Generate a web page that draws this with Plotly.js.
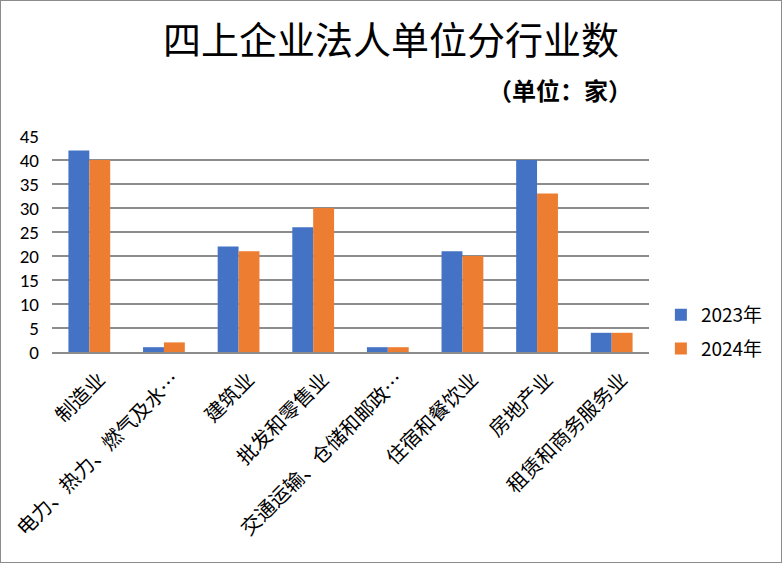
<!DOCTYPE html>
<html>
<head>
<meta charset="utf-8">
<script src="https://cdn.plot.ly/plotly-3.0.1.min.js"></script>
<style>
  html, body { margin: 0; padding: 0; background: #fff; }
  #chart { width: 780px; height: 561px; border: 1px solid #8c8c8c; }
</style>
</head>
<body>
<div id="chart"></div>
<script>
// 行业分类
const industries = ['制造业', '电力、热力、燃气及水…', '建筑业', '批发和零售业',
    '交通运输、仓储和邮政…', '住宿和餐饮业', '房地产业', '租赁和商务服务业'];
const values2023 = [42, 1, 22, 26, 1, 21, 40, 4];
const values2024 = [40, 2, 21, 30, 1, 20, 33, 4];
const seriesNames = ['2023年', '2024年'];
const yTicks = [0, 5, 10, 15, 20, 25, 30, 35, 40, 45];

const cjk = '"Noto Sans CJK SC", "Noto Sans", sans-serif';

const traces = [
    {
        x: industries,
        y: values2023,
        name: seriesNames[0],
        legendgroup: 'a',
        type: 'bar',
        marker: { color: '#4472C4' }
    },
    {
        x: industries,
        y: values2024,
        name: seriesNames[1],
        legendgroup: 'b',
        type: 'bar',
        marker: { color: '#ED7D31' }
    }
];

const layout = {
    width: 780,
    height: 561,
    paper_bgcolor: '#fff',
    plot_bgcolor: '#fff',
    font: { family: cjk, color: '#000' },
    margin: { t: 135, r: 132, b: 210, l: 51, autoexpand: false },
    barmode: 'group',
    bargap: 0.44,
    bargroupgap: 0,
    title: {
        text: '四上企业法人单位分行业数',
        font: { family: cjk, size: 38, color: '#000' },
        x: 0.5,
        xanchor: 'center',
        y: 0.93,
        yanchor: 'middle'
    },
    annotations: [{
        text: '<b>（单位：家）</b>',
        xref: 'paper', yref: 'paper',
        x: 0.851, y: 1.217,
        xanchor: 'center', yanchor: 'middle',
        showarrow: false,
        font: { family: cjk, size: 24, color: '#000' }
    }],
    xaxis: {
        type: 'category',
        tickangle: -45,
        tickfont: { family: cjk, size: 20, color: '#000' },
        ticklabelshift: 10,
        ticklabelstandoff: 6,
        showline: true,
        linecolor: '#8c8c8c',
        linewidth: 2,
        ticks: '',
        showgrid: false
    },
    yaxis: {
        range: [0, 45],
        tickvals: yTicks,
        tickfont: { family: 'Calibri, "Liberation Sans", sans-serif', size: 19, color: '#000' },
        gridcolor: '#8c8c8c',
        gridwidth: 1.5,
        zeroline: false,
        showline: false,
        ticks: '',
        ticklabelstandoff: 12
    },
    showlegend: true,
    legend: {
        xref: 'container',
        x: 0.846,
        xanchor: 'left',
        y: 0.26,
        yanchor: 'top',
        traceorder: 'grouped',
        tracegroupgap: 6,
        font: { family: cjk, size: 19, color: '#000' }
    }
};

Plotly.newPlot('chart', traces, layout, { displayModeBar: false, staticPlot: true });
</script>
</body>
</html>
